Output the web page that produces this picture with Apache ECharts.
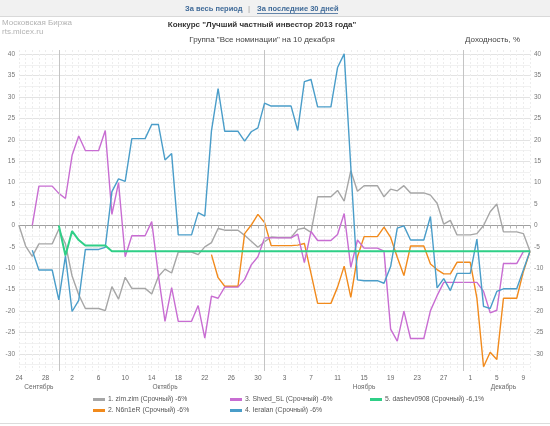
<!DOCTYPE html>
<html><head><meta charset="utf-8">
<script src="https://cdn.jsdelivr.net/npm/echarts@6/dist/echarts.min.js"></script>
<style>html,body{margin:0;padding:0;background:#fff}#c{width:550px;height:426px}</style>
</head><body><div id="c"></div>
<script>
const dates = ['24.09','25.09','26.09','27.09','28.09','29.09','30.09',
 '01.10','02.10','03.10','04.10','05.10','06.10','07.10','08.10','09.10','10.10','11.10','12.10','13.10','14.10','15.10','16.10','17.10','18.10','19.10','20.10','21.10','22.10','23.10','24.10','25.10','26.10','27.10','28.10','29.10','30.10','31.10',
 '01.11','02.11','03.11','04.11','05.11','06.11','07.11','08.11','09.11','10.11','11.11','12.11','13.11','14.11','15.11','16.11','17.11','18.11','19.11','20.11','21.11','22.11','23.11','24.11','25.11','26.11','27.11','28.11','29.11','30.11',
 '01.12','02.12','03.12','04.12','05.12','06.12','07.12','08.12','09.12','10.12'];
const monthLabelDates = ['27.09','16.10','15.11','06.12'];
const monthLabelNames = ['Сентябрь','Октябрь','Ноябрь','Декабрь'];
const monthEndDates = ['30.09','31.10','30.11'];
const seriesNames = ['1. zim.zim (Срочный) -6%','2. N6n1eR (Срочный) -6%','3. Shved_SL (Срочный) -6%','4. Ieralan (Срочный) -6%','5. dashev0908 (Срочный) -6,1%'];
const zimzim = [0,-4.8,-7.2,-4.3,-4.3,-4.3,-0.9,-4.3,-11.8,-16.2,
 -19.4,-19.4,-19.4,-19.9,-14.3,-17.2,-12.1,-14.7,-14.7,-14.7,
 -16,-11.9,-10.2,-11.1,-6.2,-6.2,-6.2,-6.8,-5,-4,
 -0.7,-1.1,-1.1,-1.1,-2.3,-3.7,-5.1,-3.8,-2.7,-2.8,
 -2.8,-2.8,-0.9,-0.6,-1.6,6.7,6.7,6.7,8.2,5.7,
 12.8,8,9.3,9.3,9.3,6.7,8.5,8.1,9.3,7.6,
 7.6,7.6,7.1,5.2,0.3,1.2,-2.2,-2.2,-2.2,-1.9,
 0,3.2,5,-1.5,-1.5,-1.5,-1.9,-6];
const n6n1er = [null,null,null,null,null,null,null,null,null,null,
 null,null,null,null,null,null,null,null,null,null,
 null,null,null,null,null,null,null,null,null,-6.8,
 -12.2,-14.2,-14.2,-14.2,-1.9,0.1,2.6,0.7,-4.7,-4.7,
 -4.7,-4.7,-4.6,-4.2,-11.2,-18.2,-18.2,-18.2,-14.4,-9.5,
 -16.8,-7.3,-2.6,-2.6,-2.6,-0.4,-2.8,-7.4,-11.7,-4.8,
 -4.8,-4.8,-9,-10.3,-11.3,-11.3,-8.6,-8.6,-8.6,-17,
 -33,-29.6,-31.3,-17,-17,-17,-10.8,-6];
const shvedSL = [null,null,0,9.2,9.2,9.2,7.5,6.3,16.4,20.9,
 17.5,17.5,17.5,22.2,2.6,10,-7.3,-2.4,-2.4,-2.4,
 0.9,-11.6,-22.4,-14.5,-22.4,-22.4,-22.4,-18.7,-26.3,-16.5,
 -17,-14.4,-14.4,-14.4,-12.6,-9.2,-7.3,-2.9,-2.9,-2.9,
 -2.9,-2.9,-2,-8.7,-1.4,-3.5,-3.5,-3.5,-2.1,2.8,
 -9.8,-3.4,-5.3,-5.3,-5.3,-6,-24.2,-27,-20,-26.4,
 -26.4,-26.4,-19.9,-16.4,-13.3,-13.3,-13.3,-13.3,-13.3,-13.3,
 -15.4,-20.4,-19.8,-8.9,-8.9,-8.9,-6.1,-6];
const ieralan = [null,null,-5.8,-10.4,-10.4,-10.4,-17.4,-7.1,-20.1,-17.5,
 -5.6,-5.6,-5.6,-5.1,7.9,10.9,10.3,20.3,20.3,20.3,
 23.6,23.6,15.3,16.8,-2.2,-2.2,-2.2,3,2.2,22.1,
 32,22,22,22,19.7,21.9,22.8,28.6,27.9,27.9,
 27.9,27.9,22.2,33.6,34.1,27.7,27.7,27.7,36.9,40.1,
 13.6,-12.7,-12.9,-12.9,-12.9,-13.5,-9.6,-0.6,-0.1,-3.4,
 -3.4,-3.4,2.1,-14.6,-12.4,-15.2,-11.2,-11.2,-11.2,-3.2,
 -18.9,-19.4,-15.4,-14.8,-14.8,-14.8,-10.4,-6];
const dashev = [null,null,null,null,null,null,0,-7,-1.3,-3.4,
 -4.7,-4.7,-4.7,-4.7,-6,-6,-6,-6,-6,-6,
 -6,-6,-6,-6,-6,-6,-6,-6,-6,-6,
 -6,-6,-6,-6,-6,-6,-6,-6,-6,-6,
 -6,-6,-6,-6,-6,-6,-6,-6,-6,-6,
 -6,-6,-6,-6,-6,-6,-6,-6,-6,-6,
 -6,-6,-6,-6,-6,-6,-6,-6,-6,-6,
 -6,-6,-6,-6,-6,-6,-6,-6];
const colors = ['#a6a6a6','#f18a1c','#c86dd2','#4a9dc9','#2fcf87'];

// horizontal split lines: ticks every 0.5 from -34; major at multiples of 5, minor halfway
const gridColors = [];
for (let i = 0; i < 10; i++) gridColors.push(i === 8 ? '#e3e3e3' : (i === 3 ? '#f1f1f1' : 'rgba(0,0,0,0)'));

const FONT = 'Liberation Sans, Arial, sans-serif';
const chart = echarts.init(document.getElementById('c'), null, {renderer: 'canvas'});
const yAx = (pos, split) => ({
  type: 'value', min: -34, max: 41, interval: 0.5, position: pos,
  axisLine: {show: false}, axisTick: {show: false},
  axisLabel: {formatter: v => (v % 5 === 0 ? String(v) : ''), fontSize: 6.5, color: '#777', margin: 4, fontFamily: FONT},
  splitLine: {show: split, showMinLine: true, showMaxLine: true, lineStyle: {color: gridColors, width: 1}}
});
const dataSets = [zimzim, n6n1er, shvedSL, ieralan, dashev];
const series = dataSets.map((d, i) => ({
  name: seriesNames[i], type: 'line', data: d, showSymbol: false, symbol: 'none',
  connectNulls: false, animation: false,
  lineStyle: {color: colors[i], width: i === 4 ? 2 : 1.4},
  itemStyle: {color: colors[i]},
  z: 2 + i
}));
series[0].markLine = {
  silent: true, symbol: 'none', animation: false, label: {show: false},
  lineStyle: {color: '#c4c4c4', type: 'solid', width: 1},
  data: monthEndDates.map(m => ({xAxis: m}))
};
const legendBase = {
  orient: 'vertical', top: 396, padding: 0, itemWidth: 12, itemHeight: 3, icon: 'rect', itemGap: 4,
  textStyle: {fontSize: 6.8, color: '#555', fontFamily: FONT, padding: [0, 0, 0, -2]}, selectedMode: false
};
chart.setOption({
  backgroundColor: '#fff',
  animation: false,
  grid: {left: 19, right: 20, top: 50, bottom: 55, containLabel: false, outerBoundsMode: 'none'},
  xAxis: [{
    type: 'category', data: dates, boundaryGap: false, position: 'bottom',
    axisLine: {show: true, lineStyle: {color: '#a0a0a0'}},
    axisTick: {show: true, interval: 0, length: 3, lineStyle: {color: '#b5b5b5'}},
    axisLabel: {interval: 3, formatter: v => String(parseInt(v.slice(0, 2), 10)), fontSize: 6.5, color: '#666', margin: 4, fontFamily: FONT},
    splitLine: {show: true, interval: 0, lineStyle: {color: '#ededed', type: [2, 2], width: 1}}
  }, {
    type: 'category', data: dates, boundaryGap: false, position: 'bottom', offset: 9,
    axisLine: {show: false}, axisTick: {show: false}, splitLine: {show: false},
    axisLabel: {interval: 0, formatter: v => { const k = monthLabelDates.indexOf(v); return k >= 0 ? monthLabelNames[k] : ''; },
      fontSize: 6.5, color: '#666', margin: 4, fontFamily: FONT}
  }],
  yAxis: [yAx('left', true), yAx('right', false)],
  legend: [
    Object.assign({}, legendBase, {left: 93, data: [seriesNames[0], seriesNames[1]]}),
    Object.assign({}, legendBase, {left: 230, data: [seriesNames[2], seriesNames[3]]}),
    Object.assign({}, legendBase, {left: 370, data: [seriesNames[4]]})
  ],
  graphic: [
    {type: 'rect', shape: {x: 0, y: 0, width: 550, height: 16}, style: {fill: '#f1f1f1'}, silent: true},
    {type: 'line', shape: {x1: 0, y1: 16.5, x2: 550, y2: 16.5}, style: {stroke: '#d9d9d9', lineWidth: 1}, silent: true},
    {type: 'text', x: 185, y: 9, style: {text: 'За весь период', font: 'bold 7.5px ' + FONT, fill: '#3f6a98', textVerticalAlign: 'middle'}},
    {type: 'text', x: 248, y: 9, style: {text: '|', font: '8px ' + FONT, fill: '#999', textVerticalAlign: 'middle'}},
    {type: 'text', x: 257, y: 9, style: {text: 'За последние 30 дней', font: 'bold 7.5px ' + FONT, fill: '#3f6a98', textVerticalAlign: 'middle'}},
    {type: 'line', shape: {x1: 257, y1: 13.5, x2: 338, y2: 13.5}, style: {stroke: '#3f6a98', lineWidth: 0.8}, silent: true},
    {type: 'text', x: 2, y: 23, style: {text: 'Московская Биржа', font: '8px ' + FONT, fill: '#b3b3b3', textVerticalAlign: 'middle'}},
    {type: 'text', x: 2, y: 32, style: {text: 'rts.micex.ru', font: '8px ' + FONT, fill: '#b3b3b3', textVerticalAlign: 'middle'}},
    {type: 'text', x: 262, y: 25, style: {text: 'Конкурс "Лучший частный инвестор 2013 года"', font: 'bold 8px ' + FONT, fill: '#333', textAlign: 'center', textVerticalAlign: 'middle'}},
    {type: 'text', x: 262, y: 40, style: {text: 'Группа "Все номинации" на 10 декабря', font: '8px ' + FONT, fill: '#444', textAlign: 'center', textVerticalAlign: 'middle'}},
    {type: 'text', x: 520, y: 40, style: {text: 'Доходность, %', font: '8px ' + FONT, fill: '#444', textAlign: 'right', textVerticalAlign: 'middle'}},
    {type: 'line', shape: {x1: 0, y1: 423.5, x2: 550, y2: 423.5}, style: {stroke: '#dcdcdc', lineWidth: 1}, silent: true}
  ],
  series: series
});
</script></body></html>
